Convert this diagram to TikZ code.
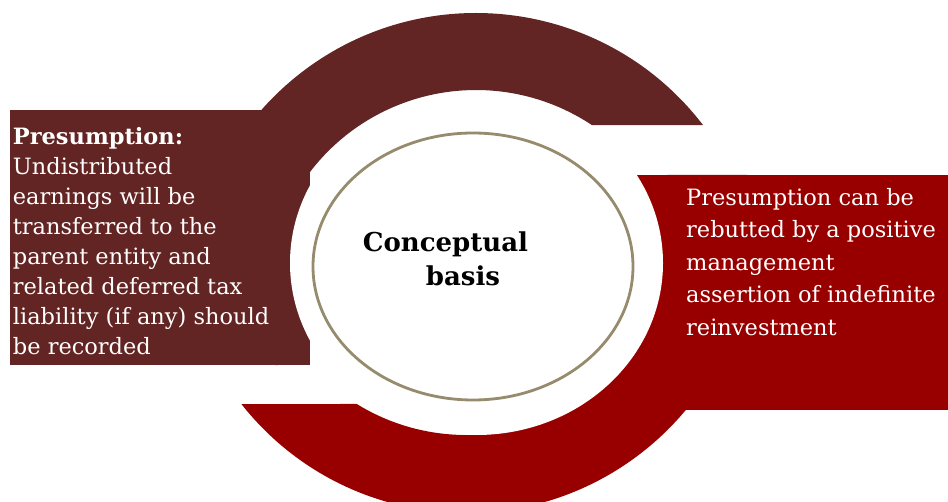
\documentclass[tikz,border=0pt]{standalone}
\usepackage{fontspec}
\setmainfont{DejaVu Serif}
\usepackage{xcolor}
\usetikzlibrary{shapes.geometric, calc}
\definecolor{arcbrown}{HTML}{632523}
\definecolor{arcred}{HTML}{980000}
\definecolor{ringtan}{HTML}{978B6D}
\tikzset{
	hub/.style={ellipse, draw=ringtan, line width=2.8pt, fill=white, minimum width=320pt, minimum height=267pt},
	boxtext/.style={text=white, align=left, anchor=north west, inner sep=0pt, font=\fontsize{22.5}{30}\selectfont},
	hubtext/.style={align=left, anchor=north west, inner sep=0pt, font=\fontsize{26}{34}\selectfont\bfseries}
}

\begin{document}
\begin{tikzpicture}[x=1pt, y=1pt]
	\useasboundingbox (0,0) rectangle (948,501);
	% Define important coordinates
	\coordinate (topc) at (476,202); % centre of upper arc
	\coordinate (botc) at (466,274); % centre of lower arc
	\coordinate (hubc) at (473,234.5);
	
	% Upper arc and left panel
	\fill[arcbrown] ([shift={(37.47:286)}]topc) arc[start angle=37.47, end angle=193.34, radius=286]
		-- ([shift={(198.41:209)}]topc) arc[start angle=198.41, end angle=56.36, radius=209] -- cycle;
	\fill[arcbrown] (10,136) rectangle (310,391);
	
	% Lower arc and right panel
	\fill[arcred] ([shift={(218.24:286)}]botc) arc[start angle=218.24, end angle=370.48, radius=286]
		-- ([shift={(374.48:208)}]botc) arc[start angle=374.48, end angle=238.32, radius=208] -- cycle;
	\fill[arcred] (633,91) rectangle (948,326);
	
	% White gap round the hub
	\fill[white] (476.5,238) ellipse[x radius=186.5, y radius=172];
	\node[hub] (hub) at (hubc) {};
	
	% Texts
	\node[hubtext] (hublabel) at (362.7,269) {Conceptual\\\hspace*{63pt}basis};
	\node[boxtext] (lefttext) at (12.7,374) {\textbf{Presumption:}\\Undistributed\\earnings will be\\transferred to the\\parent entity and\\related deferred tax\\liability (if any) should\\be recorded};
	\node[boxtext, font=\fontsize{22.5}{32.5}\selectfont] (righttext) at (686,313) {Presumption can be\\rebutted by a positive\\management\\assertion of indefinite\\reinvestment};
\end{tikzpicture}
\end{document}
